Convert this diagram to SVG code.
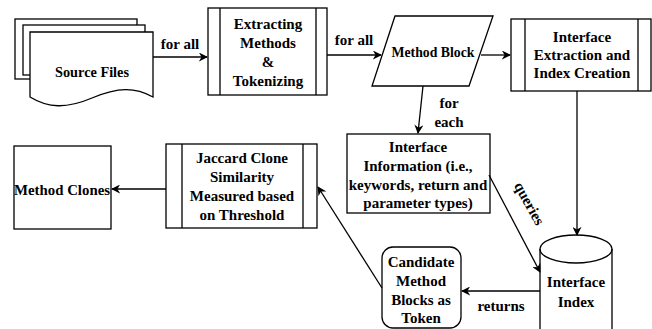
<svg xmlns="http://www.w3.org/2000/svg" width="652" height="329" viewBox="0 0 652 329">
<defs>
<style>
.s{fill:#fff;stroke:#000;stroke-width:1.3}
.ln{fill:none;stroke:#000;stroke-width:1.3}
text{font-family:"Liberation Serif","Times New Roman",serif;font-weight:bold;font-size:15px;fill:#000;text-anchor:middle}
</style>
<marker id="ah" viewBox="0 0 10 10" refX="9" refY="5" markerWidth="9" markerHeight="9" markerUnits="userSpaceOnUse" orient="auto">
<path d="M0,0 L10,5 L0,10 L3,5 Z" fill="#000"/>
</marker>
</defs>
<rect width="652" height="329" fill="#fff"/>
<g id="source-files">
<rect class="s" x="15" y="19" width="122" height="60"/>
<rect class="s" x="23" y="25" width="122" height="50"/>
<path class="s" d="M30,32 H153 V97 C135,87 118,87 92,98 C66,109 48,108 30,97 Z"/>
<text x="92" y="77" textLength="74" lengthAdjust="spacingAndGlyphs">Source Files</text>
</g>
<g id="extracting">
<rect class="s" x="208" y="8" width="119" height="87"/>
<path class="ln" d="M220,8 V95 M316,8 V95"/>
<text x="268" y="29">Extracting</text>
<text x="268" y="48">Methods</text>
<text x="268" y="67">&amp;</text>
<text x="268" y="86">Tokenizing</text>
</g>
<g id="method-block">
<polygon class="s" points="395,16 493,16 469,86 372,86"/>
<text x="433" y="57" textLength="83" lengthAdjust="spacingAndGlyphs">Method Block</text>
</g>
<g id="interface-extraction">
<rect class="s" x="511" y="19" width="140" height="72"/>
<path class="ln" d="M525,19 V91 M638,19 V91"/>
<text x="582" y="42">Interface</text>
<text x="582" y="60">Extraction and</text>
<text x="582" y="78">Index Creation</text>
</g>
<g id="interface-information">
<rect class="s" x="347" y="134" width="143" height="79"/>
<text x="418" y="152">Interface</text>
<text x="418" y="171">Information (i.e.,</text>
<text x="418" y="190">keywords, return and</text>
<text x="418" y="208">parameter types)</text>
</g>
<g id="interface-index">
<path class="s" d="M540,249 A36,14 0 0 1 612,249 V340 H540 Z"/>
<path class="ln" d="M540,249 A36,14 0 0 0 612,249"/>
<text x="576" y="287">Interface</text>
<text x="576" y="307">Index</text>
</g>
<g id="candidate">
<rect class="s" x="382" y="247" width="79" height="81" rx="11"/>
<text x="421" y="267">Candidate</text>
<text x="421" y="286">Method</text>
<text x="421" y="305">Blocks as</text>
<text x="421" y="323">Token</text>
</g>
<g id="jaccard">
<rect class="s" x="166" y="144" width="151" height="84"/>
<path class="ln" d="M182,144 V228 M303,144 V228"/>
<text x="242" y="163">Jaccard Clone</text>
<text x="242" y="182">Similarity</text>
<text x="242" y="201">Measured based</text>
<text x="242" y="220">on Threshold</text>
</g>
<g id="method-clones">
<rect class="s" x="14" y="146" width="97" height="83"/>
<text x="62" y="195" textLength="96" lengthAdjust="spacingAndGlyphs">Method Clones</text>
</g>
<g id="connectors">
<path class="ln" d="M153,57 H207" marker-end="url(#ah)"/>
<path class="ln" d="M327,55 H381" marker-end="url(#ah)"/>
<path class="ln" d="M481,55 H510" marker-end="url(#ah)"/>
<path class="ln" d="M423,86 L418,133" marker-end="url(#ah)"/>
<path class="ln" d="M577,91 V235" marker-end="url(#ah)"/>
<path class="ln" d="M489,175 L540,272" marker-end="url(#ah)"/>
<path class="ln" d="M540,291 H462" marker-end="url(#ah)"/>
<path class="ln" d="M382,288 L318,187" marker-end="url(#ah)"/>
<path class="ln" d="M166,189 H112" marker-end="url(#ah)"/>
<text x="180" y="49">for all</text>
<text x="354" y="45">for all</text>
<text x="449" y="108">for</text>
<text x="449" y="127">each</text>
<text x="0" y="0" transform="translate(525,206) rotate(61)">queries</text>
<text x="501" y="311">returns</text>
</g>
</svg>
